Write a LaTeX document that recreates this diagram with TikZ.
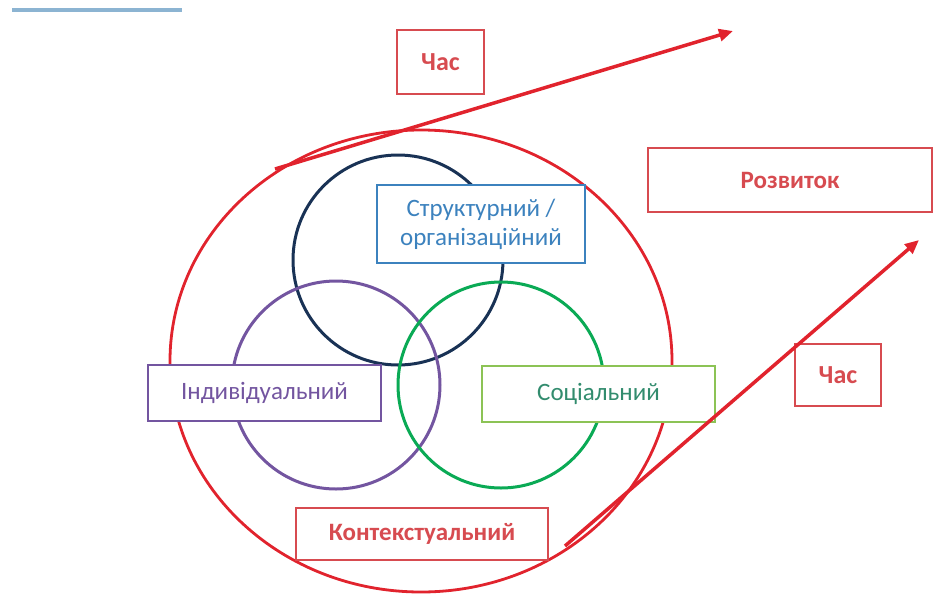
\documentclass[tikz,border=0pt]{standalone}
\usepackage{fontspec}
\setmainfont{Carlito}
\usetikzlibrary{arrows.meta}
\definecolor{cred}{RGB}{225,35,45}
\definecolor{bred}{RGB}{215,75,80}
\definecolor{navy}{RGB}{25,50,85}
\definecolor{purp}{RGB}{115,85,160}
\definecolor{grn}{RGB}{10,170,85}
\definecolor{sblue}{RGB}{60,130,190}
\definecolor{lgrn}{RGB}{140,195,85}
\definecolor{tgrn}{RGB}{50,140,110}
\definecolor{topline}{RGB}{140,180,210}
\tikzset{
  lbl/.style={draw, line width=2.6pt, inner sep=0pt, align=center, font=\fontsize{25}{29}\selectfont},
  redbox/.style={lbl, draw=bred, text=bred, font=\bfseries\fontsize{25}{29}\selectfont},
  ring/.style={line width=3pt},
  timearrow/.style={draw=cred, line width=3.5pt, -{Triangle[length=14pt,width=12pt]}},
}
\begin{document}
\begin{tikzpicture}[x=1pt,y=-1pt]
\useasboundingbox (0,0) rectangle (935,595);
% top fragment line
\draw[topline, line width=3.5pt] (12,10) -- (182,10);
% big context ellipse
\draw[cred, line width=2.8pt] (421,361) ellipse [x radius=251, y radius=231];
% circles
\draw[navy, ring] (398,260) circle [radius=105];
\draw[purp, ring] (336,385) circle [radius=104];
\draw[grn, ring] (501,385) circle [radius=103];
% boxes
\node[lbl, draw=sblue, text=sblue, fill=white, minimum width=208pt, minimum height=78pt] (struct) at (481,224) {Структурний /\\організаційний};
\node[lbl, draw=purp, text=purp, fill=white, minimum width=233pt, minimum height=56pt] (indiv) at (264.5,393) {Індивідуальний};
\node[lbl, draw=lgrn, text=tgrn, fill=white, minimum width=233pt, minimum height=56pt] (social) at (598.5,394) {Соціальний};
\node[redbox, fill=white, minimum width=252pt, minimum height=52pt] (context) at (422,534) {Контекстуальний};
\node[redbox, fill=white, minimum width=87pt, minimum height=64pt, font=\bfseries\fontsize{26}{30}\selectfont] (time1) at (440.5,62) {Час};
\node[redbox, fill=white, minimum width=284pt, minimum height=64pt] (dev) at (790,180) {Розвиток};
\node[redbox, fill=white, minimum width=86pt, minimum height=62pt, font=\bfseries\fontsize{26}{30}\selectfont] (time2) at (838,375) {Час};
% arrows
\coordinate (a1s) at (275,169);
\coordinate (a1e) at (733,31);
\coordinate (a2s) at (565,546);
\coordinate (a2e) at (919,240);
\draw[timearrow] (a1s) -- (a1e);
\draw[timearrow] (a2s) -- (a2e);
\end{tikzpicture}
\end{document}
